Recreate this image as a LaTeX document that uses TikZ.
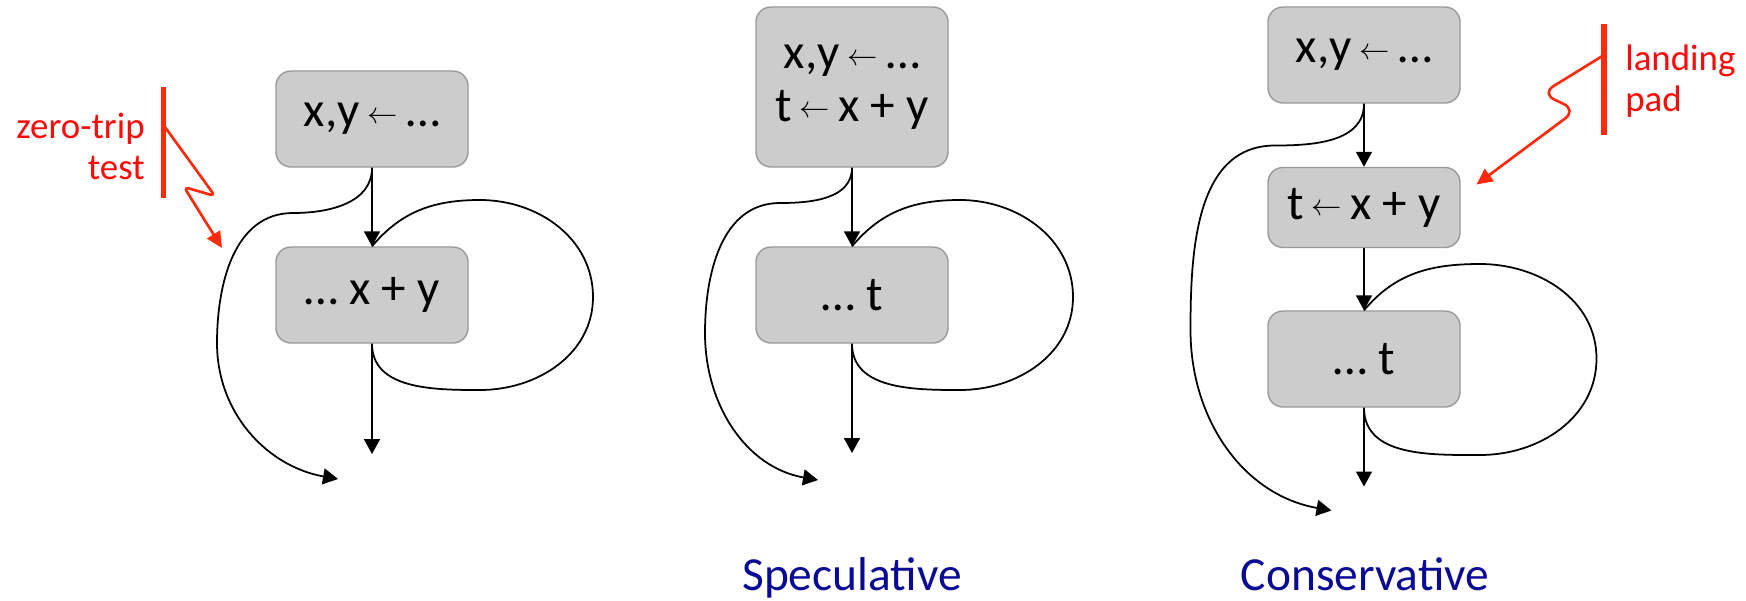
\documentclass[tikz,border=0pt]{standalone}
\usepackage{fontspec}
\setmainfont{Carlito}
\usetikzlibrary{arrows.meta, positioning}
\definecolor{BlockGray}{HTML}{CCCCCC}
\definecolor{BlockEdge}{HTML}{9A9A9A}
\definecolor{NoteRed}{HTML}{FF2A0A}
\definecolor{NoteText}{HTML}{FF0A0A}
\definecolor{CaptionBlue}{HTML}{0A0A96}
\newcommand{\asgn}{\,\raisebox{1.8pt}{\fontsize{19pt}{19pt}\selectfont$\leftarrow$}\,}
\tikzset{
  block/.style={draw=BlockEdge, line width=0.8pt, fill=BlockGray,
                rounded corners=0.3cm, minimum width=3.84cm,
                minimum height=1.92cm, inner sep=0pt, align=center,
                font=\fontsize{28}{30}\selectfont},
  flow/.style={-{Triangle[length=0.3cm, width=0.32cm]}, line width=1pt},
  backedge/.style={line width=1pt},
  notebar/.style={draw=NoteRed, line width=3pt},
  zap/.style={draw=NoteRed, line width=1.5pt,
              -{Triangle[length=0.32cm, width=0.3cm]}},
  note/.style={text=NoteText, inner sep=0pt,
               font=\fontsize{21}{23.5}\selectfont},
  caption/.style={text=CaptionBlue, font=\fontsize{27}{30}\selectfont,
                  anchor=base},
}

\begin{document}
\begin{tikzpicture}
  \useasboundingbox (0,0) rectangle (34.92,-12);

  % left: plain loop
  \node[block] (initL) at (7.44,-2.38) {x,y\asgn…};
  \node[block] (bodyL) at (7.44,-5.90) {… x + y};
  \coordinate (exitL) at (7.44,-9.08);
  \coordinate (skipL) at (6.76,-9.58);
  \draw[flow] (initL.south) -- (bodyL.north);
  \draw[flow] (bodyL.south) -- (exitL);
  \draw[backedge] (bodyL.south) to[out=-90, in=180] (9.6,-7.8)
    to[out=0, in=-90] (11.86,-5.94) to[out=90, in=0] (9.6,-4.0)
    to[out=180, in=50] (bodyL.north);
  \draw[flow] (initL.south) to[out=-90, in=0] (5.86,-4.26)
    to[out=180, in=90] (4.34,-6.86) to[out=-90, in=170] (skipL);

  \draw[notebar] (3.27,-1.74) -- (3.27,-3.96);
  \coordinate (zapL) at (3.27,-2.50);
  \node[note, anchor=east, align=right] (zeroTrip) at (2.9,-2.93) {zero-trip\\test};
  \draw[zap, rounded corners=3pt] (zapL) -- (4.30,-3.92) -- (3.68,-3.74) -- (4.44,-4.96);

  % middle: speculative
  \node[block, minimum height=3.2cm] (initM) at (17.04,-1.74) {x,y\asgn…\\t\asgn x + y};
  \node[block] (bodyM) at (17.04,-5.90) {… t};
  \coordinate (exitM) at (17.04,-9.06);
  \coordinate (skipM) at (16.36,-9.60);
  \draw[flow] (initM.south) -- (bodyM.north);
  \draw[flow] (bodyM.south) -- (exitM);
  \draw[backedge] (bodyM.south) to[out=-90, in=180] (19.2,-7.8)
    to[out=0, in=-90] (21.46,-5.94) to[out=90, in=0] (19.2,-4.0)
    to[out=180, in=50] (bodyM.north);
  \draw[flow] (initM.south) to[out=-90, in=0] (15.6,-4.06)
    to[out=180, in=90] (14.1,-6.66) to[out=-90, in=170] (skipM);
  \node[caption] (specCap) at (17.04,-11.8) {Speculative};

  % right: conservative, with landing pad
  \node[block] (initR) at (27.28,-1.10) {x,y\asgn…};
  \node[block, minimum height=1.6cm] (padR) at (27.28,-4.15) {t\asgn x + y};
  \node[block] (bodyR) at (27.28,-7.18) {… t};
  \coordinate (exitR) at (27.28,-9.73);
  \coordinate (skipR) at (26.63,-10.21);
  \draw[flow] (initR.south) -- (padR.north);
  \draw[flow] (padR.south) -- (bodyR.north);
  \draw[flow] (bodyR.south) -- (exitR);
  \draw[backedge] (bodyR.south) to[out=-90, in=180] (29.6,-9.1)
    to[out=0, in=-90] (31.93,-7.17) to[out=90, in=0] (29.6,-5.28)
    to[out=180, in=50] (bodyR.north);
  \draw[flow] (initR.south) to[out=-90, in=0] (25.5,-2.91)
    to[out=180, in=90] (23.81,-6.6) to[out=-90, in=170] (skipR);
  \node[caption] (consCap) at (27.3,-11.8) {Conservative};

  \draw[notebar] (32.08,-0.48) -- (32.08,-2.70);
  \coordinate (zapR) at (32.08,-1.10);
  \coordinate (padTip) at (29.53,-3.69);
  \node[note, anchor=west, align=left] (landPad) at (32.5,-1.63) {landing\\pad};
  \draw[zap, rounded corners=8pt] (zapR) -- (30.83,-1.87) -- (31.53,-2.2) -- (padTip);
\end{tikzpicture}
\end{document}
